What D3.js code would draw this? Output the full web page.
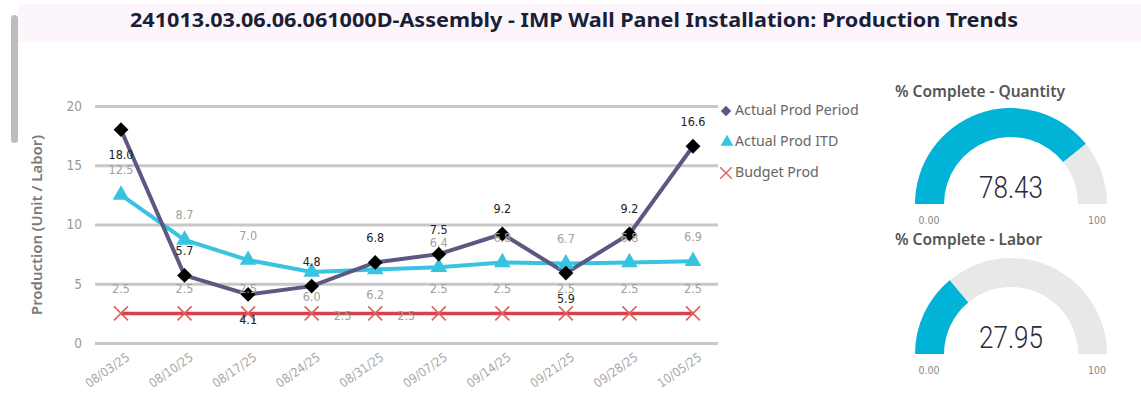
<!DOCTYPE html>
<html><head><meta charset="utf-8">
<script src="https://cdn.jsdelivr.net/npm/d3@7"></script>
<style>
html,body{margin:0;padding:0;background:#fff;}
svg{display:block;}
</style></head>
<body>
<svg id="c" width="1141" height="420"></svg>
<script>
// ---- data ----
const categories = ["08/03/25","08/10/25","08/17/25","08/24/25","08/31/25","09/07/25","09/14/25","09/21/25","09/28/25","10/05/25"];
const actualProdPeriod = [18.0, 5.7, 4.1, 4.8, 6.8, 7.5, 9.2, 5.9, 9.2, 16.6];
const actualProdITD    = [12.5, 8.7, 7.0, 6.0, 6.2, 6.4, 6.8, 6.7, 6.8, 6.9];
const budgetProd       = [2.5, 2.5, 2.5, 2.5, 2.5, 2.5, 2.5, 2.5, 2.5, 2.5];
const yTicks = [0, 5, 10, 15, 20];
const seriesNames = ["Actual Prod Period", "Actual Prod ITD", "Budget Prod"];
const gaugeTitles = ["% Complete - Quantity", "% Complete - Labor"];
const gaugeValues = [78.43, 27.95];
const gaugeMin = 0, gaugeMax = 100;
// label placement (a = above, b = below, r = right)
const periodLabelPos = ["b","a","b","a","a","a","a","b","a","a"];
const itdLabelPos    = ["a","a","a","b","b","a","a","a","a","a"];
const budgetLabelPos = ["a","a","a","r","r","a","a","a","a","a"];

const svg = d3.select("#c");
const condensed = "'DejaVu Sans Condensed', 'Liberation Sans Narrow', 'Liberation Sans', sans-serif";

// title band
svg.append("rect").attr("x",18).attr("y",4).attr("width",1123).attr("height",38).attr("fill","#FCF6FC");
svg.append("text").attr("x",130).attr("y",22).attr("dominant-baseline","middle")
  .attr("font-family","'Noto Sans', 'Open Sans', sans-serif").attr("font-weight","700").attr("font-size",19.5)
  .attr("textLength",888).attr("lengthAdjust","spacingAndGlyphs")
  .attr("fill","#1A1F36").text("241013.03.06.06.061000D-Assembly - IMP Wall Panel Installation: Production Trends");
// scrollbar
svg.append("rect").attr("x",11).attr("y",15).attr("width",7).attr("height",128).attr("rx",3.5).attr("fill","#BDBDBD");

// scales
const x = d3.scalePoint().domain(categories).range([121, 693]);
const y = d3.scaleLinear().domain([0, 20]).range([343, 106]);

// gridlines
const yAxis = d3.axisLeft(y).tickValues(yTicks).tickSize(-623).tickPadding(13).tickFormat(d3.format("d"));
const gy = svg.append("g").attr("transform","translate(95,0)").call(yAxis);
gy.select(".domain").remove();
gy.selectAll(".tick line").attr("stroke","#C8C8C8").attr("stroke-width",3);
gy.selectAll(".tick text").attr("fill","#9A9A9A").attr("font-size",13.5).attr("font-family",condensed);

// x axis
const xAxis = d3.axisBottom(x).tickSize(0).tickPadding(0);
const gx = svg.append("g").attr("transform","translate(0,352)").call(xAxis);
gx.select(".domain").remove();
gx.selectAll(".tick text").attr("fill","#A8A8A8").attr("font-size",12.5)
  .attr("font-family",condensed)
  .attr("text-anchor","end").attr("dy","0.7em").attr("transform","translate(4,0) rotate(-35)");

// y-axis title
svg.append("text").attr("transform","translate(38,225) rotate(-90)").attr("text-anchor","middle")
  .attr("dominant-baseline","middle").attr("font-family","'Noto Sans','Open Sans',sans-serif").attr("font-weight","600")
  .attr("font-size",15).attr("textLength",180).attr("lengthAdjust","spacingAndGlyphs")
  .attr("fill","#7A7A7A").text("Production (Unit / Labor)");

const line = d3.line().x((d,i)=>x(categories[i])).y(d=>y(d));

// budget
svg.append("path").datum(budgetProd).attr("d",line).attr("fill","none").attr("stroke","#D1444B").attr("stroke-width",3.5);
// ITD
svg.append("path").datum(actualProdITD).attr("d",line).attr("fill","none").attr("stroke","#38C3E1").attr("stroke-width",4);
// period
svg.append("path").datum(actualProdPeriod).attr("d",line).attr("fill","none").attr("stroke","#5D5881").attr("stroke-width",4);

// markers
const xSym = d3.symbol().type(d3.symbolX).size(130);
svg.append("g").selectAll("path").data(budgetProd).join("path")
  .attr("d",xSym).attr("transform",(d,i)=>`translate(${x(categories[i])},${y(d)})`)
  .attr("fill","none").attr("stroke","#E0605E").attr("stroke-width",1.6);
const tri = d3.symbol().type(d3.symbolTriangle).size(120);
svg.append("g").selectAll("path").data(actualProdITD).join("path")
  .attr("d",tri).attr("transform",(d,i)=>`translate(${x(categories[i])},${y(d)})`).attr("fill","#38C3E1");
const dia = d3.symbol().type(d3.symbolSquare).size(110);
svg.append("g").selectAll("path").data(actualProdPeriod).join("path")
  .attr("d",dia).attr("transform",(d,i)=>`translate(${x(categories[i])},${y(d)}) rotate(45)`).attr("fill","#000");

// data labels
function labels(data, pos, color, weight){
  svg.append("g").selectAll("text").data(data).join("text")
    .attr("x",(d,i)=>x(categories[i]) + (pos[i]==="r" ? 31 : 0))
    .attr("y",(d,i)=>y(d) + (pos[i]==="a" ? -24 : pos[i]==="b" ? 26 : 3))
    .attr("text-anchor","middle").attr("dominant-baseline","middle")
    .attr("font-family",condensed).attr("font-size",12.5)
    .attr("font-weight",weight).attr("fill",color).text(d=>d3.format(".1f")(d));
}
labels(budgetProd, budgetLabelPos, "#A0A0A0", "normal");
labels(actualProdITD, itdLabelPos, "#A0A0A0", "normal");
labels(actualProdPeriod, periodLabelPos, "#222", "normal");

// legend
const legY = [111, 142, 173];
const lg = svg.append("g");
lg.append("path").attr("d",d3.symbol().type(d3.symbolSquare).size(55)).attr("transform",`translate(726,${legY[0]}) rotate(45)`).attr("fill","#5D5881");
lg.append("path").attr("d",d3.symbol().type(d3.symbolTriangle).size(70)).attr("transform",`translate(727,${legY[1]})`).attr("fill","#38C3E1");
lg.append("path").attr("d",d3.symbol().type(d3.symbolX).size(90)).attr("transform",`translate(726,${legY[2]})`).attr("fill","none").attr("stroke","#E0605E").attr("stroke-width",1.4);
lg.selectAll("text").data(seriesNames).join("text").attr("x",735).attr("y",(d,i)=>legY[i]).attr("dominant-baseline","middle")
  .attr("font-family","'Noto Sans','Open Sans',sans-serif").attr("font-size",14.2).attr("fill","#666").text(d=>d);

// gauges
const gaugeCfg = [{cy:204, ty:93}, {cy:354, ty:241}];
const gScale = d3.scaleLinear().domain([gaugeMin, gaugeMax]).range([-Math.PI/2, Math.PI/2]);
const arc = d3.arc().innerRadius(67).outerRadius(96);
gaugeValues.forEach((v,k)=>{
  const cfg = gaugeCfg[k];
  const g = svg.append("g").attr("transform",`translate(1011,${cfg.cy})`);
  g.append("path").attr("d",arc({startAngle:gScale(gaugeMin), endAngle:gScale(gaugeMax)})).attr("fill","#E8E8E8");
  g.append("path").attr("d",arc({startAngle:gScale(gaugeMin), endAngle:gScale(v)})).attr("fill","#01B3D7");
  g.append("text").attr("x",0).attr("y",-6).attr("text-anchor","middle")
    .attr("font-family","Roboto, 'Noto Sans', sans-serif").attr("font-weight",300).attr("font-size",31)
    .attr("textLength",64).attr("lengthAdjust","spacingAndGlyphs")
    .attr("fill","#2A2A3A").text(d3.format(".2f")(v));
  g.append("text").attr("x",-82).attr("y",17).attr("text-anchor","middle").attr("dominant-baseline","middle")
    .attr("font-family",condensed).attr("font-size",10.5).attr("fill","#888").text(d3.format(".2f")(gaugeMin));
  g.append("text").attr("x",86).attr("y",17).attr("text-anchor","middle").attr("dominant-baseline","middle")
    .attr("font-family",condensed).attr("font-size",10.5).attr("fill","#888").text(d3.format("d")(gaugeMax));
  svg.append("text").attr("x",895).attr("y",cfg.ty).attr("dominant-baseline","middle")
    .attr("font-family","'Noto Sans','Open Sans',sans-serif").attr("font-weight","600").attr("font-size",15.5)
    .attr("fill","#555").text(gaugeTitles[k]);
});
</script>
</body></html>
